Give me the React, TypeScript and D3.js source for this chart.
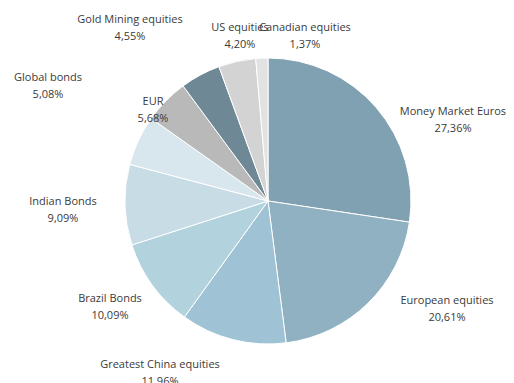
import React from "react";
import * as d3 from "d3";

const categories = [
  "Money Market Euros",
  "European equities",
  "Greatest China equities",
  "Brazil Bonds",
  "Indian Bonds",
  "EUR",
  "Global bonds",
  "Gold Mining equities",
  "US equities",
  "Canadian equities",
];
const values = [27.36, 20.61, 11.96, 10.09, 9.09, 5.68, 5.08, 4.55, 4.2, 1.37];
const valueLabels = ["27,36%", "20,61%", "11,96%", "10,09%", "9,09%", "5,68%", "5,08%", "4,55%", "4,20%", "1,37%"];
const colors = ["#7fa1b1", "#8fb1c1", "#9fc3d4", "#b2d2de", "#c8dce5", "#d8e6ed", "#b9b9b9", "#6e8896", "#d3d3d3", "#e2e2e2"];

// label anchor layout (centre of first line)
const labelLayout: [number, number][] = [
  [453, 111],
  [447, 300],
  [160, 364],
  [110, 298],
  [63, 201],
  [153, 101],
  [48, 77],
  [130, 19],
  [240, 27],
  [305, 27],
];

const W = 514;
const H = 383;
const cx = 268;
const cy = 201;
const R = 143;

export default function App() {
  const data = categories.map((c, i) => ({ c, v: values[i], i }));
  const pie = d3.pie<any>().value((d) => d.v).sort(null);
  const arc = d3.arc<any>().innerRadius(0).outerRadius(R);
  const arcs = pie(data);
  return (
    <svg width={W} height={H} style={{ position: "absolute", left: 0, top: 0, background: "#fff" }}>
      <g transform={`translate(${cx},${cy})`}>
        {arcs.map((a, i) => (
          <path key={i} d={arc(a) as string} fill={colors[i]} stroke="#fff" strokeWidth={1} />
        ))}
      </g>
      {categories.map((c, i) => (
        <text key={c} x={labelLayout[i][0]} y={labelLayout[i][1]} textAnchor="middle" fontFamily="Open Sans, sans-serif" fontSize={11} fill="#3a3a3a">
          <tspan x={labelLayout[i][0]} dy="0.35em">{c}</tspan>
          <tspan x={labelLayout[i][0]} dy="1.55em">{valueLabels[i]}</tspan>
        </text>
      ))}
    </svg>
  );
}
